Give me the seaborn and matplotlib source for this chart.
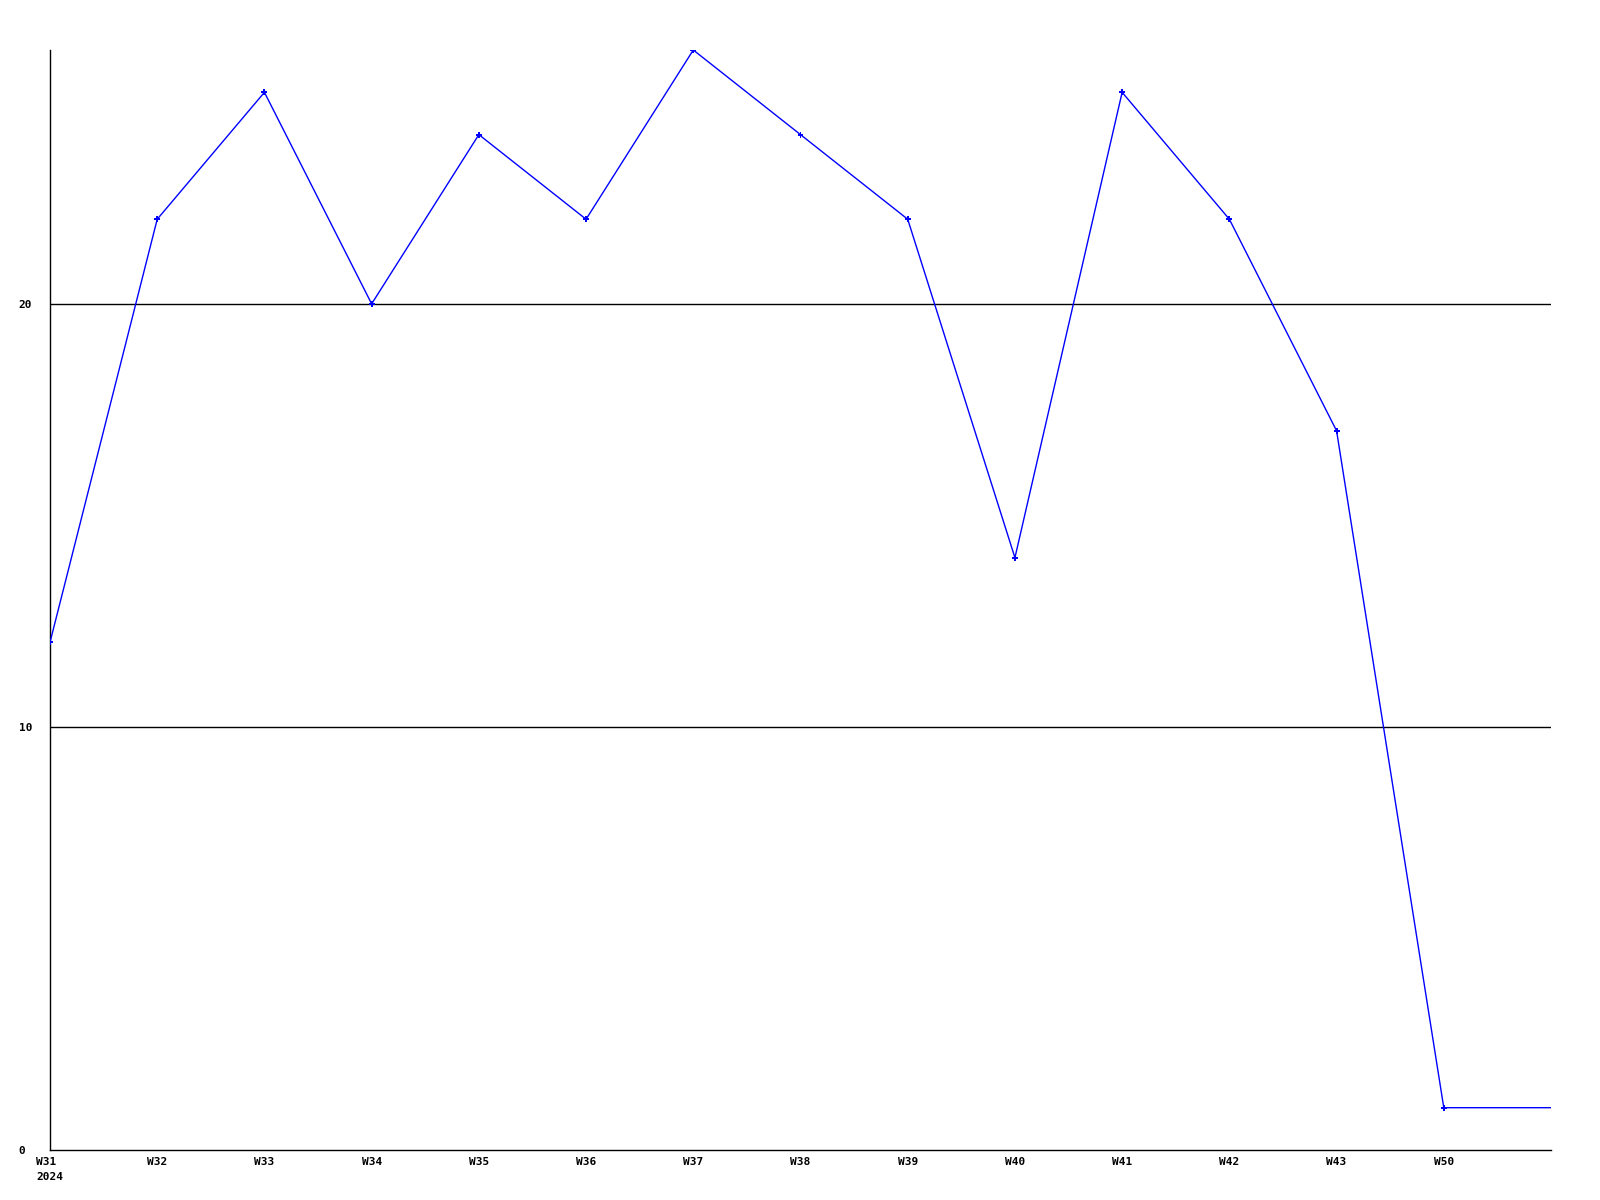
import matplotlib
matplotlib.use('Agg')
import matplotlib.pyplot as plt
import seaborn as sns
import pandas as pd
import numpy as np

weeks = ['W31\n2024', 'W32', 'W33', 'W34', 'W35', 'W36', 'W37', 'W38', 'W39', 'W40', 'W41', 'W42', 'W43', 'W50']
counts = [12, 22, 25, 20, 24, 22, 26, 24, 22, 14, 25, 22, 17, 1]
# line runs on past the last point to the right edge at the same level
tail_count = 1

sns.set_theme(style="white")
plt.rcParams['font.family'] = ['DejaVu Sans Mono', 'DejaVu Sans']

pts = pd.DataFrame({'pos': np.arange(len(weeks)), 'count': counts})
line = pd.DataFrame({'pos': np.arange(len(weeks) + 1), 'count': counts + [tail_count]})

fig = plt.figure(figsize=(16, 12), dpi=100)
ax = fig.add_axes([50 / 1600, 50 / 1200, 1501 / 1600, 1100 / 1200])

for y in (10, 20):
    ax.axhline(y, color='black', lw=1.0, zorder=1)

sns.lineplot(data=line, x='pos', y='count', ax=ax, color='#0000ff', lw=1.0, zorder=3)
sns.scatterplot(data=pts, x='pos', y='count', ax=ax, color='#0000ff', marker='P', s=18,
                edgecolor='none', zorder=4)

ax.set_xlim(0, len(weeks))
ax.set_ylim(0, 26)
ax.set_xticks(np.arange(len(weeks)))
ax.set_xticklabels(weeks, fontsize=8, fontweight='bold', linespacing=1.6, va='top',
                   color='black', multialignment='left')
ax.set_yticks([0, 10, 20])
ax.set_yticklabels(['0', '10', '20'], fontsize=8, fontweight='bold', color='black')
ax.tick_params(axis='x', length=0, pad=5)
ax.tick_params(axis='y', length=0, pad=22.5)
for lbl in ax.get_yticklabels():
    lbl.set_horizontalalignment('left')
ax.set_xlabel('')
ax.set_ylabel('')
for s in ('top', 'right'):
    ax.spines[s].set_visible(False)
for s in ('left', 'bottom'):
    ax.spines[s].set_color('black')
    ax.spines[s].set_linewidth(1.0)

fig.savefig('out.png', dpi=100)
plt.close(fig)
